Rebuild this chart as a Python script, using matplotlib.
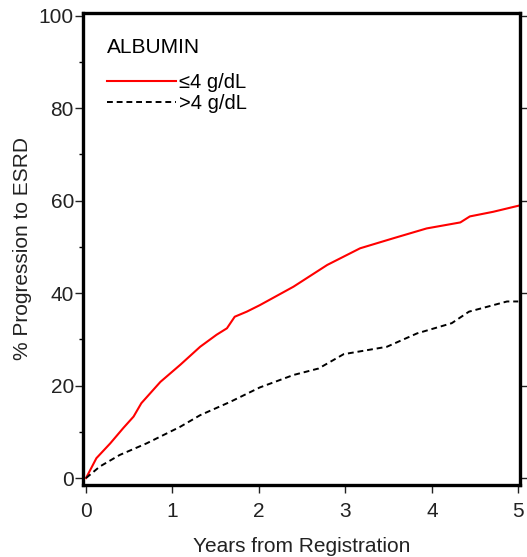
import matplotlib
matplotlib.use("Agg")
import matplotlib.pyplot as plt
from matplotlib.ticker import MultipleLocator

plt.rcParams['font.family'] = ['Liberation Sans', 'DejaVu Sans']

# curva albumina <= 4 g/dL
years_low = [0, 0.12, 0.28, 0.43, 0.55, 0.64, 0.86, 1.09, 1.32, 1.51, 1.63, 1.72, 1.86,
             2.01, 2.40, 2.79, 3.17, 3.56, 3.94, 4.33, 4.44, 4.71, 5.0]
prog_low = [0, 4.3, 7.5, 10.8, 13.3, 16.2, 20.8, 24.5, 28.4, 31.0, 32.4, 34.9, 36.0,
            37.4, 41.4, 46.1, 49.7, 51.9, 54.0, 55.3, 56.6, 57.6, 58.9]

# curva albumina > 4 g/dL
years_high = [0, 0.16, 0.39, 0.70, 1.09, 1.32, 1.67, 2.01, 2.40, 2.69, 2.98,
              3.48, 3.83, 4.23, 4.43, 4.71, 4.87, 5.0]
prog_high = [0, 2.5, 5.0, 7.5, 11.1, 13.6, 16.5, 19.6, 22.3, 23.7, 26.8,
             28.4, 31.3, 33.5, 36.0, 37.4, 38.2, 38.2]

fig = plt.figure(figsize=(5.27, 5.57), dpi=100)
ax = fig.add_axes([83/527, 1 - 485/557, (520 - 83)/527, (485 - 13)/557])

ax.plot(years_low, prog_low, color="red", linewidth=1.5, label="≤4 g/dL")
ax.plot(years_high, prog_high, color="black", linewidth=1.4, linestyle=(0, (3, 2)), label=">4 g/dL")

ax.set_xlim(-0.035, 5.02)
ax.set_ylim(-1.5, 100.6)
ax.set_xticks([0, 1, 2, 3, 4, 5])
ax.set_yticks([0, 20, 40, 60, 80, 100])
ax.yaxis.set_minor_locator(MultipleLocator(10))
ax.tick_params(axis="both", which="major", labelsize=15, length=5.5, width=1,
               colors="#222222", pad=1)
ax.tick_params(axis="x", which="major", pad=7)
ax.tick_params(axis="y", which="minor", length=3, width=1)
ax.tick_params(axis="y", right=True, which="major")

for s in ax.spines.values():
    s.set_linewidth(2.4)

ax.set_xlabel("Years from Registration", fontsize=15, color="#222222", labelpad=11)
ax.set_ylabel("% Progression to ESRD", fontsize=15, color="#222222", labelpad=5)

leg = ax.legend(title="ALBUMIN", loc="upper left", frameon=False, fontsize=14.5,
                title_fontsize=15, handlelength=3.4, alignment="left",
                bbox_to_anchor=(0.037, 0.965), borderaxespad=0, handletextpad=0.15,
                labelspacing=0.1)
leg._legend_box.sep = 12

fig.savefig("out.png", dpi=100)
